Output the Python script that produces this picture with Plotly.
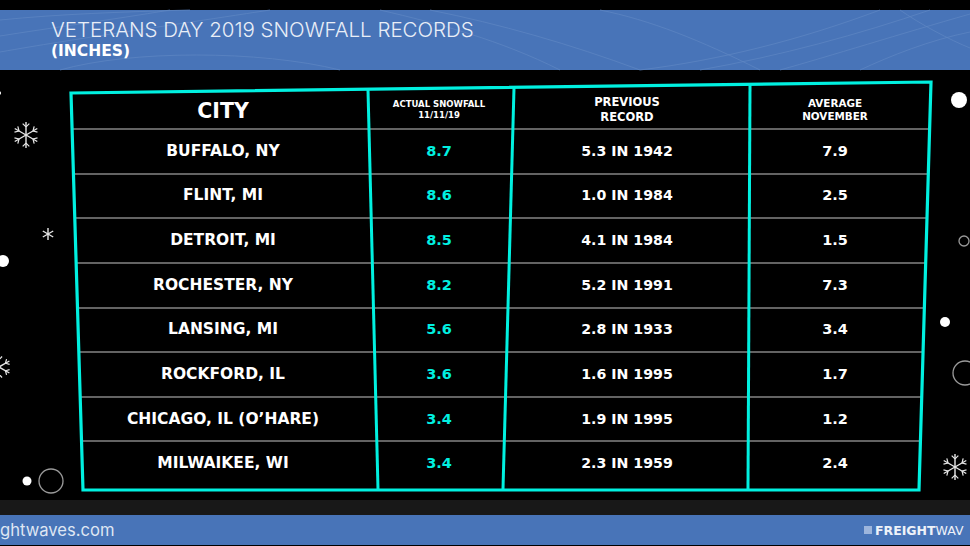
import math
import plotly.graph_objects as go

# table contents
cities = ["BUFFALO, NY", "FLINT, MI", "DETROIT, MI", "ROCHESTER, NY", "LANSING, MI",
          "ROCKFORD, IL", "CHICAGO, IL (O’HARE)", "MILWAIKEE, WI"]
actual = ["8.7", "8.6", "8.5", "8.2", "5.6", "3.6", "3.4", "3.4"]
previous = ["5.3 IN 1942", "1.0 IN 1984", "4.1 IN 1984", "5.2 IN 1991", "2.8 IN 1933",
            "1.6 IN 1995", "1.9 IN 1995", "2.3 IN 1959"]
average = ["7.9", "2.5", "1.5", "7.3", "3.4", "1.7", "1.2", "2.4"]

title = "VETERANS DAY 2019 SNOWFALL RECORDS"
subtitle = "(INCHES)"
headers = ["CITY", "ACTUAL SNOWFALL<br>11/11/19", "PREVIOUS<br>RECORD", "AVERAGE<br>NOVEMBER"]
footer_left = "ghtwaves.com"
footer_right = "<b>FREIGHT</b>WAV"

# page layout, in screen pixels
W, H = 970, 546
row_y = [152, 196, 241, 286, 330, 375, 420, 464]
col_x = [223, 439, 627, 835]
rule_y = [129, 174, 218, 263, 308, 352, 397, 441]

FONT = "DejaVu Sans"
CYAN = "#00F0E0"
BLUE = "#4874B8"

fig = go.Figure()


def add_text(xs, ys, texts, size, color="white", weight=700, pos="middle center", family=FONT):
    fig.add_trace(go.Scatter(x=xs, y=ys, text=texts, mode="text", textposition=pos,
                             textfont=dict(family=family, size=size, color=color, weight=weight),
                             hoverinfo="skip", showlegend=False))


shapes = []


def rect(x0, y0, x1, y1, color):
    shapes.append(dict(type="rect", x0=x0, y0=y0, x1=x1, y1=y1, fillcolor=color, line_width=0, layer="below"))


def line(x0, y0, x1, y1, color, width):
    shapes.append(dict(type="line", x0=x0, y0=y0, x1=x1, y1=y1, line=dict(color=color, width=width), layer="below"))


def dot(cx, cy, r):
    shapes.append(dict(type="circle", x0=cx - r, y0=cy - r, x1=cx + r, y1=cy + r,
                       fillcolor="white", line_width=0, layer="below"))


def ring(cx, cy, r):
    shapes.append(dict(type="circle", x0=cx - r, y0=cy - r, x1=cx + r, y1=cy + r,
                       line=dict(color="#9a9a9a", width=1.3), layer="below"))


def flake(cx, cy, r, branches=True):
    for i in range(6):
        a = math.pi / 2 + i * math.pi / 3
        ax, ay = math.cos(a), math.sin(a)
        line(cx, cy, cx + r * ax, cy + r * ay, "#e8e8e8", 1.4)
        if branches:
            bx, by = cx + 0.62 * r * ax, cy + 0.62 * r * ay
            for s in (-1, 1):
                b = a + s * math.pi / 4
                line(bx, by, bx + 0.36 * r * math.cos(b), by + 0.36 * r * math.sin(b), "#e8e8e8", 1.2)


# bands
rect(0, 10, W, 70, BLUE)
rect(0, 500, W, 515, "#181818")
rect(0, 515, W, 545, BLUE)

# faint contour lines in the title band
contours = [
    "M0,20 C60,14 120,12 190,10", "M0,36 C50,28 110,20 170,10", "M0,52 C80,38 140,30 270,10",
    "M60,70 C130,50 260,50 340,70", "M380,10 C440,24 500,40 560,70", "M430,10 C500,24 570,44 640,70",
    "M600,10 C650,20 700,40 760,70", "M640,70 C720,60 800,40 880,10", "M700,70 C780,56 860,34 930,10",
    "M780,70 C830,56 900,34 970,14", "M860,70 C890,56 930,40 970,32", "M900,10 C920,24 950,40 970,48",
]
for c in contours:
    shapes.append(dict(type="path", path=c, line=dict(color="#5f87c3", width=0.7), layer="below"))

# decorations either side of the table
dot(959, 100, 8)
dot(3, 261, 6)
dot(945, 322, 5)
dot(27, 481, 4.5)
dot(-1, 93, 2)
ring(51, 481, 12)
ring(964, 241, 5)
ring(965, 373, 12)
flake(26, 135, 13)
flake(955, 467, 13)
flake(-1, 367, 12)
flake(48, 234, 6, branches=False)

# skewed table frame
TL, TR, BR, BL = (71, 93), (931, 82), (919, 490), (83, 490)


def left_x(y):
    return TL[0] + (y - TL[1]) * (BL[0] - TL[0]) / (BL[1] - TL[1])


def right_x(y):
    return TR[0] + (y - TR[1]) * (BR[0] - TR[0]) / (BR[1] - TR[1])


for y in rule_y:
    line(left_x(y), y, right_x(y), y, "#858585", 1.4)

dividers = [((368, 90), (378, 489)), ((514, 88), (503, 489)), ((750, 85), (748, 489))]
for a, b in dividers:
    line(a[0], a[1], b[0], b[1], CYAN, 3)
shapes.append(dict(type="path", path=f"M{TL[0]},{TL[1]} L{TR[0]},{TR[1]} L{BR[0]},{BR[1]} L{BL[0]},{BL[1]} Z",
                   line=dict(color=CYAN, width=3.2), layer="below"))

# titles
add_text([51], [32], [title], 20.5, color="#e9eef7", weight=300, pos="middle right", family="Inter")
add_text([51], [52], [subtitle], 15.5, pos="middle right")

# table text
add_text([col_x[0]], [113], [headers[0]], 20.5)
add_text([col_x[1]], [110.5], [headers[1]], 8.5)
add_text([col_x[2]], [111], [headers[2]], 11.5)
add_text([col_x[3]], [111], [headers[3]], 10.4)
add_text([col_x[0]] * 8, [y + 0.5 for y in row_y], cities, 15.5)
add_text([col_x[1]] * 8, row_y, actual, 14.5, color=CYAN)
add_text([col_x[2]] * 8, row_y, previous, 14.2)
add_text([col_x[3]] * 8, row_y, average, 14.5)

# footer
add_text([0], [532], [footer_left], 16.6, color="#dfe6f3", weight=400, pos="middle right", family="Inter")
rect(864, 526, 872, 534, "#9db5dc")
add_text([875], [531.5], [footer_right], 12.5, color="#eef2f9", weight=400, pos="middle right")

fig.update_layout(
    width=W, height=H, margin=dict(l=0, r=0, t=0, b=0),
    paper_bgcolor="black", plot_bgcolor="black",
    xaxis=dict(range=[0, W], visible=False, fixedrange=True),
    yaxis=dict(range=[H, 0], visible=False, fixedrange=True),
    shapes=shapes,
)
fig.write_html("out.html", config={"displayModeBar": False},
               post_script="document.body.style.margin='0';")
